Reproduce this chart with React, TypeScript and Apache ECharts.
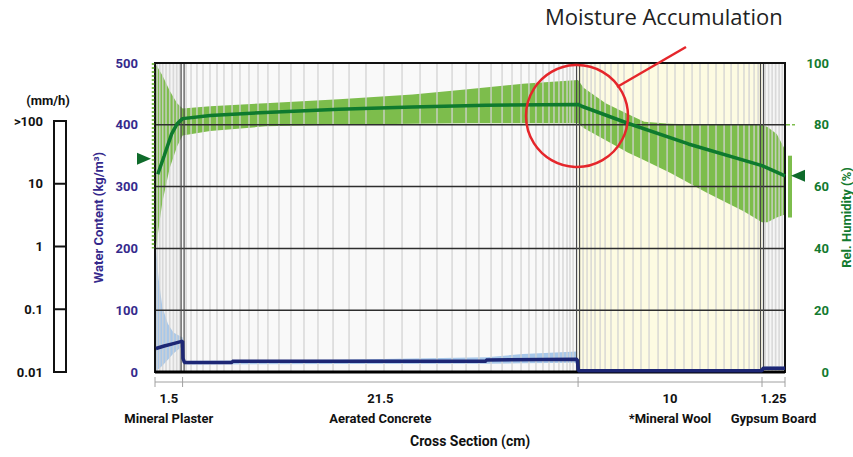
import React, { useEffect, useRef } from "react";
import * as echarts from "echarts";

// ---------- data ----------
const layerNames = ["Mineral Plaster", "Aerated Concrete", "*Mineral Wool", "Gypsum Board"];
const layerThickness = [1.5, 21.5, 10, 1.25];
const layerThicknessLabels = ["1.5", "21.5", "10", "1.25"];
const layerFill = ["#f4f4f4", "#f9f9f9", "#fdfbe2", "#f6f6f6"];

const waterMax = 500;
const waterInterval = 100;
const rhMax = 100;
const rhInterval = 20;
const gridValues = [100, 200, 300, 400];

const rainLabels = [">100", "10", "1", "0.1", "0.01"];

// numerical mesh lines (cm)
const meshLines = [
  0.12, 0.26, 0.42, 0.6, 0.8, 1.0, 1.18, 1.34,
  1.69, 1.96, 2.28, 2.61, 2.99, 3.37, 3.75, 4.19, 4.62, 5.11, 5.6, 6.14, 6.74, 7.39, 8.1,
  8.86, 9.68, 10.55, 11.47, 12.45, 13.43, 14.41, 15.33, 16.15, 16.91, 17.61, 18.27, 18.87,
  19.41, 19.9, 20.33, 20.71, 21.09, 21.42, 21.69, 21.96, 22.18, 22.4, 22.56, 22.73,
  23.27, 23.49, 23.71, 23.92, 24.2, 24.47, 24.79, 25.17, 25.5, 25.99, 26.42, 26.86, 27.35,
  27.84, 28.27, 28.76, 29.2, 29.63, 30.07, 30.5, 30.94, 31.32, 31.7, 32.02, 32.3, 32.57, 32.79,
  33.17, 33.36, 33.55, 33.74, 33.93, 34.1,
];

// relative humidity band [x cm, min %, max %]
const rhBand = [
  [0, 38, 100], [0.4, 55, 96], [0.8, 66, 91], [1.2, 73, 87], [1.5, 76.5, 85.3],
  [3, 78, 86], [6, 79.5, 87], [10, 80, 88.3], [14, 80.3, 89.8], [17, 80.5, 91.5],
  [20, 80.5, 93.3], [23, 80.5, 94.5], [23.3, 79, 92], [24.5, 75, 87], [25.7, 71, 83.5],
  [26.6, 68.5, 81], [28, 64.5, 80.3], [30, 58, 80], [32, 52, 80], [33, 48.5, 80],
  [33.3, 48.5, 79.3], [33.8, 50, 77], [34.25, 51, 72],
];
// relative humidity current [x cm, %]
const rhLine = [
  [0.15, 64], [0.5, 70], [0.9, 77], [1.2, 80.3], [1.5, 82], [3, 83], [6, 84], [10, 85],
  [14, 85.8], [18, 86.3], [23, 86.6], [23.2, 86], [25.7, 80.5], [29, 73.8], [33, 66.8],
  [34.25, 63.5],
];

// water content bands [x cm, min, max] (kg/m3)
const wcBandPlaster = [
  [0, 0, 220], [0.2, 5, 150], [0.4, 10, 105], [0.7, 20, 78], [1.0, 30, 64], [1.5, 42, 56],
];
const wcBandConcrete = [
  [1.55, 12, 18], [10, 13, 20], [18, 13.5, 24], [20, 14, 29], [22.95, 15, 33],
];
const wcBandGypsum = [
  [33.05, 3, 9], [34.25, 3, 9],
];
// water content current [x cm, kg/m3]
const wcLine = [
  [0.05, 38], [0.5, 42], [1, 46], [1.5, 50], [1.52, 22], [1.6, 15.5], [4.2, 15.5],
  [4.2, 17.5], [18, 17.5], [18, 19.5], [22.95, 20.5], [23.02, 2], [33, 2], [33.05, 6],
  [34.25, 6],
];

// boundary conditions
const leftBoundaryRH = 69;
const leftBoundaryRange = [40, 100];
const rightBoundaryRH = 63.5;
const rightBoundaryRange = [50, 70];

// ---------- styles ----------
const NAVY = "#35298c";
const GREEN = "#137a2f";
const BAND_GREEN = "#7dbd4c";
const FONT = "Roboto";

const boundaries: number[] = [];
{
  let acc = 0;
  for (const t of layerThickness) {
    acc += t;
    boundaries.push(acc);
  }
}
const total = boundaries[boundaries.length - 1];
const starts = [0, ...boundaries.slice(0, -1)];

export default function App() {
  const ref = useRef<HTMLDivElement>(null);

  useEffect(() => {
    if (!ref.current) return;
    const chart = echarts.init(ref.current, undefined, { renderer: "svg" });

    const structureSeries = {
      type: "custom",
      xAxisIndex: 0,
      yAxisIndex: 0,
      z: 1,
      silent: true,
      clip: false,
      data: [[0, 0]],
      renderItem: (_p: any, api: any) => {
        const children: any[] = [];
        layerThickness.forEach((_, i) => {
          const a = api.coord([starts[i], waterMax]);
          const b = api.coord([boundaries[i], 0]);
          children.push({
            type: "rect",
            shape: { x: a[0], y: a[1], width: b[0] - a[0], height: b[1] - a[1] },
            style: { fill: layerFill[i] },
          });
        });
        return { type: "group", children };
      },
    };

    const bandSeries = (bands: number[][][], yAxisIndex: number, color: string, z: number) => ({
      type: "custom",
      xAxisIndex: 0,
      yAxisIndex,
      z,
      silent: true,
      clip: true,
      data: [[0, 0]],
      renderItem: (_p: any, api: any) => ({
        type: "group",
        children: bands.map((band) => {
          const upper = band.map((d) => api.coord([d[0], d[2]]));
          const lower = band.slice().reverse().map((d) => api.coord([d[0], d[1]]));
          return {
            type: "polygon",
            shape: { points: upper.concat(lower) },
            style: { fill: color },
          };
        }),
      }),
    });

    const overlaySeries = {
      type: "custom",
      xAxisIndex: 0,
      yAxisIndex: 0,
      z: 4,
      silent: true,
      clip: false,
      data: [[0, 0]],
      renderItem: (_p: any, api: any) => {
        const children: any[] = [];
        meshLines.forEach((x) => {
          const a = api.coord([x, waterMax]);
          const b = api.coord([x, 0]);
          children.push({
            type: "line",
            shape: { x1: a[0], y1: a[1], x2: b[0], y2: b[1] },
            style: { stroke: "#d2d2d2", lineWidth: 1.6, opacity: 0.8 },
          });
        });
        gridValues.forEach((v) => {
          const a = api.coord([0, v]);
          const b = api.coord([total, v]);
          children.push({
            type: "line",
            shape: { x1: a[0], y1: a[1], x2: b[0], y2: b[1] },
            style: { stroke: "#2e2e2e", lineWidth: 1.5 },
          });
        });
        boundaries.slice(0, -1).forEach((x) => {
          const a = api.coord([x, waterMax]);
          const b = api.coord([x, 0]);
          [-1.5, 1.5].forEach((o) => {
            children.push({
              type: "line",
              shape: { x1: a[0] + o, y1: a[1], x2: b[0] + o, y2: b[1] },
              style: { stroke: "#4a4a4a", lineWidth: 1.2 },
            });
          });
        });
        const tl = api.coord([0, waterMax]);
        const br = api.coord([total, 0]);
        children.push({
          type: "rect",
          shape: { x: tl[0], y: tl[1], width: br[0] - tl[0], height: br[1] - tl[1] },
          style: { fill: "none", stroke: "#111", lineWidth: 2 },
        });
        children.push({
          type: "line",
          shape: { x1: tl[0], y1: br[1], x2: br[0], y2: br[1] },
          style: { stroke: "#000", lineWidth: 3 },
        });
        // dimension line
        const dy = br[1] + 10;
        children.push({
          type: "line",
          shape: { x1: tl[0], y1: dy, x2: br[0], y2: dy },
          style: { stroke: "#a0a0a0", lineWidth: 1 },
        });
        [0, ...boundaries].forEach((x) => {
          const p = api.coord([x, 0]);
          children.push({
            type: "line",
            shape: { x1: p[0], y1: dy - 5, x2: p[0], y2: dy + 5 },
            style: { stroke: "#a0a0a0", lineWidth: 1 },
          });
        });
        layerThickness.forEach((_, i) => {
          const c = api.coord([(starts[i] + boundaries[i]) / 2, 0]);
          children.push({
            type: "text",
            style: {
              text: layerThicknessLabels[i], x: c[0], y: br[1] + 26, align: "center",
              verticalAlign: "middle", fill: "#111", font: `bold 13px ${FONT}`,
            },
          });
          children.push({
            type: "text",
            style: {
              text: layerNames[i], x: c[0], y: br[1] + 46, align: "center",
              verticalAlign: "middle", fill: "#111", font: `bold 13px ${FONT}`,
            },
          });
        });
        return { type: "group", children };
      },
    };

    const boundarySeries = {
      type: "custom",
      xAxisIndex: 0,
      yAxisIndex: 1,
      z: 6,
      silent: true,
      clip: false,
      data: [[0, 0]],
      renderItem: (_p: any, api: any) => {
        const children: any[] = [];
        const lt = api.coord([0, leftBoundaryRange[1]]);
        const lb = api.coord([0, leftBoundaryRange[0]]);
        children.push({
          type: "line",
          shape: { x1: lt[0] - 2, y1: lt[1], x2: lb[0] - 2, y2: lb[1] },
          style: { stroke: "#7dbd4c", lineWidth: 2.5, lineDash: [2, 2] },
        });
        const lp = api.coord([0, leftBoundaryRH]);
        children.push({
          type: "polygon",
          shape: { points: [[lp[0] - 18, lp[1] - 6], [lp[0] - 18, lp[1] + 6], [lp[0] - 4, lp[1]]] },
          style: { fill: "#0f6b2b" },
        });
        const rt = api.coord([total, rightBoundaryRange[1]]);
        const rb = api.coord([total, rightBoundaryRange[0]]);
        children.push({
          type: "rect",
          shape: { x: rt[0] + 3, y: rt[1], width: 4, height: rb[1] - rt[1] },
          style: { fill: BAND_GREEN },
        });
        const r80 = api.coord([total, 80]);
        children.push({
          type: "line",
          shape: { x1: r80[0] + 1, y1: r80[1], x2: r80[0] + 10, y2: r80[1] },
          style: { stroke: BAND_GREEN, lineWidth: 1.5, lineDash: [4, 2] },
        });
        const rp = api.coord([total, rightBoundaryRH]);
        children.push({
          type: "polygon",
          shape: { points: [[rp[0] + 20, rp[1] - 6], [rp[0] + 20, rp[1] + 6], [rp[0] + 6, rp[1]]] },
          style: { fill: "#0f6b2b" },
        });
        return { type: "group", children };
      },
    };

    const graphic: any[] = [
      { type: "text", left: 545, top: 5, style: { text: "Moisture Accumulation", font: `22px 'Open Sans'`, fill: "#222" } },
      { type: "circle", shape: { cx: 577, cy: 116, r: 51 }, style: { fill: "none", stroke: "#e5262b", lineWidth: 2.5 }, z: 100 },
      { type: "line", shape: { x1: 617, y1: 87, x2: 686, y2: 47 }, style: { stroke: "#e5262b", lineWidth: 2.5 }, z: 100 },
      // rain scale
      { type: "text", x: 48, y: 100, style: { text: "(mm/h)", align: "center", verticalAlign: "middle", font: `bold 13px ${FONT}`, fill: "#111" } },
      { type: "rect", shape: { x: 54, y: 121, width: 12, height: 251 }, style: { fill: "#fff", stroke: "#111", lineWidth: 2 } },
    ];
    rainLabels.forEach((t, i) => {
      const y = 121 + (251 / (rainLabels.length - 1)) * i;
      graphic.push({ type: "text", x: 43, y, style: { text: t, align: "right", verticalAlign: "middle", font: `bold 13px ${FONT}`, fill: "#111" } });
      if (i > 0 && i < rainLabels.length - 1) {
        graphic.push({ type: "line", shape: { x1: 54, y1: y, x2: 66, y2: y }, style: { stroke: "#111", lineWidth: 2 } });
      }
    });
    graphic.push({
      type: "text", left: 410, top: 434,
      style: { text: "Cross Section (cm)", font: `bold 14px ${FONT}`, fill: "#111" },
    });

    chart.setOption({
      animation: false,
      grid: { left: 155, right: 68, top: 63, bottom: 85, containLabel: false, outerBoundsMode: "none" },
      xAxis: {
        type: "value", min: 0, max: total, show: false,
      },
      yAxis: [
        {
          type: "value", min: 0, max: waterMax, interval: waterInterval, position: "left",
          name: "Water Content (kg/m³)", nameLocation: "middle", nameRotate: 90, nameGap: 46,
          nameTextStyle: { color: NAVY, fontWeight: "bold", fontSize: 13, fontFamily: FONT },
          axisLine: { show: false }, axisTick: { show: false }, splitLine: { show: false },
          axisLabel: { color: NAVY, fontWeight: "bold", fontSize: 13, fontFamily: FONT, margin: 17 },
        },
        {
          type: "value", min: 0, max: rhMax, interval: rhInterval, position: "right",
          name: "Rel. Humidity (%)", nameLocation: "middle", nameRotate: 90, nameGap: 55,
          nameTextStyle: { color: GREEN, fontWeight: "bold", fontSize: 13, fontFamily: FONT },
          axisLine: { show: false }, axisTick: { show: false }, splitLine: { show: false },
          axisLabel: { color: GREEN, fontWeight: "bold", fontSize: 13, fontFamily: FONT, margin: 44, align: "right" },
        },
      ],
      series: [
        structureSeries,
        bandSeries([rhBand], 1, BAND_GREEN, 2),
        bandSeries([wcBandPlaster, wcBandConcrete, wcBandGypsum], 0, "#a8c8ea", 3),
        overlaySeries,
        {
          type: "line", yAxisIndex: 0, z: 5, data: wcLine, showSymbol: false, silent: true,
          lineStyle: { color: "#1d2775", width: 3.5 },
        },
        {
          type: "line", yAxisIndex: 1, z: 5, data: rhLine, showSymbol: false, silent: true,
          lineStyle: { color: "#0e7a2e", width: 3.5 },
        },
        boundarySeries,
      ],
      graphic,
    });

    return () => chart.dispose();
  }, []);

  return (
    <div
      ref={ref}
      style={{ position: "fixed", left: 0, top: 0, width: 853, height: 457, background: "#fff" }}
    />
  );
}
